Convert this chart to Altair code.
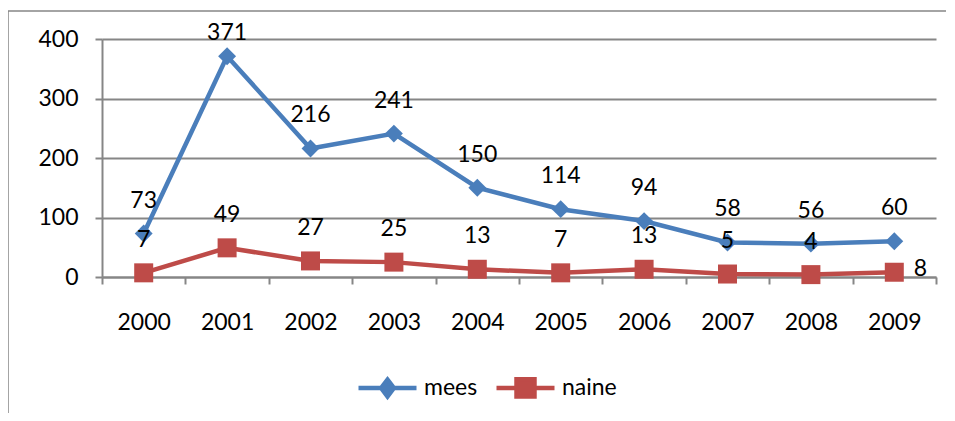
import altair as alt
import pandas as pd

years = ["2000", "2001", "2002", "2003", "2004", "2005", "2006", "2007", "2008", "2009"]
mees = [73, 371, 216, 241, 150, 114, 94, 58, 56, 60]
naine = [7, 49, 27, 25, 13, 7, 13, 5, 4, 8]
series = ["mees", "naine"]
colors = ["#4A7EBB", "#BE4B48"]
y_ticks = [0, 100, 200, 300, 400]

rows = []
for s, vals in (("mees", mees), ("naine", naine)):
    for yr, v in zip(years, vals):
        rows.append({"year": yr, "series": s, "value": v})
df = pd.DataFrame(rows)

FONT = "Lato"
FS = 23
GRID = "#868686"

MEES_PATH = "M-1,0L1,0M0,-0.29L0.22,0L0,0.29L-0.22,0Z"
NAINE_PATH = "M-1,0L1,0M-0.31,-0.3L0.31,-0.3L0.31,0.3L-0.31,0.3Z"

shape_expr = "datum.value === 'mees' ? '" + MEES_PATH + "' : '" + NAINE_PATH + "'"
col_expr = "datum.value === 'mees' ? '" + colors[0] + "' : '" + colors[1] + "'"

legend = alt.Legend(
    title=None,
    orient="none",
    legendX=254,
    legendY=317,
    direction="horizontal",
    symbolSize=3364,
    symbolType={"expr": shape_expr},
    symbolFillColor={"expr": col_expr},
    symbolStrokeColor={"expr": col_expr},
    symbolStrokeWidth=4.5,
    symbolOpacity=1,
    labelFontSize=FS,
    labelFont=FONT,
    labelColor="black",
    labelOffset=5,
    columnPadding=9,
)

color = alt.Color("series:N", scale=alt.Scale(domain=series, range=colors), legend=legend)

x = alt.X(
    "year:O",
    sort=years,
    bandPosition=0.5,
    scale=alt.Scale(type="band", paddingInner=0, paddingOuter=0),
    axis=alt.Axis(
        title=None, labelAngle=0, tickBand="extent", grid=False,
        domainColor=GRID, domainWidth=2, tickColor=GRID, tickWidth=2, tickSize=7,
        labelFont=FONT, labelFontSize=FS, labelColor="black", labelPadding=27,
    ),
)
y = alt.Y(
    "value:Q",
    scale=alt.Scale(domain=[0, 400]),
    axis=alt.Axis(
        title=None, values=y_ticks, grid=True, gridColor=GRID, gridWidth=2,
        domainColor=GRID, domainWidth=2, tickColor=GRID, tickWidth=2, tickSize=7,
        labelFont=FONT, labelFontSize=FS, labelColor="black", labelPadding=17,
    ),
)

base = alt.Chart(df)

lines = base.mark_line(strokeWidth=4.5).encode(x=x, y=y, color=color)

pts_mees = base.transform_filter("datum.series == 'mees'").mark_point(
    filled=True, opacity=1, shape="diamond", size=320, color=colors[0]).encode(x=x, y=y)
pts_naine = base.transform_filter("datum.series == 'naine'").mark_point(
    filled=True, opacity=1, shape="square", size=361, color=colors[1]).encode(x=x, y=y)

txt = dict(font=FONT, fontSize=FS, color="black")
lab_mees = base.transform_filter("datum.series == 'mees' && datum.value < 350").mark_text(dy=-33, **txt).encode(
    x=x, y=y, text="value:Q")
lab_mees_top = base.transform_filter("datum.series == 'mees' && datum.value >= 350").mark_text(dy=-23, **txt).encode(
    x=x, y=y, text="value:Q")
lab_naine = base.transform_filter("datum.series == 'naine' && datum.year != '2009'").mark_text(dy=-33, **txt).encode(
    x=x, y=y, text="value:Q")
lab_naine_last = base.transform_filter("datum.series == 'naine' && datum.year == '2009'").mark_text(dx=26, dy=-3, **txt).encode(
    x=x, y=y, text="value:Q")

frame_data = alt.Data(values=[{"k": 1}])
frame_left = alt.Chart(frame_data).mark_rule(color=GRID, strokeWidth=1.5).encode(
    x=alt.value(-94), y=alt.value(-28), y2=alt.value(420))
frame_top = alt.Chart(frame_data).mark_rule(color=GRID, strokeWidth=1.5).encode(
    x=alt.value(-94), x2=alt.value(900), y=alt.value(-28))

chart = alt.layer(
    frame_left, frame_top, lines, pts_mees, pts_naine, lab_mees, lab_mees_top, lab_naine, lab_naine_last
).properties(
    width=834, height=238,
    autosize=alt.AutoSizeParams(type="none"),
    padding={"left": 94, "top": 31, "right": 10, "bottom": 136},
).configure_view(stroke=None)

chart.save("out.html", embed_options={"renderer": "svg", "actions": False})
